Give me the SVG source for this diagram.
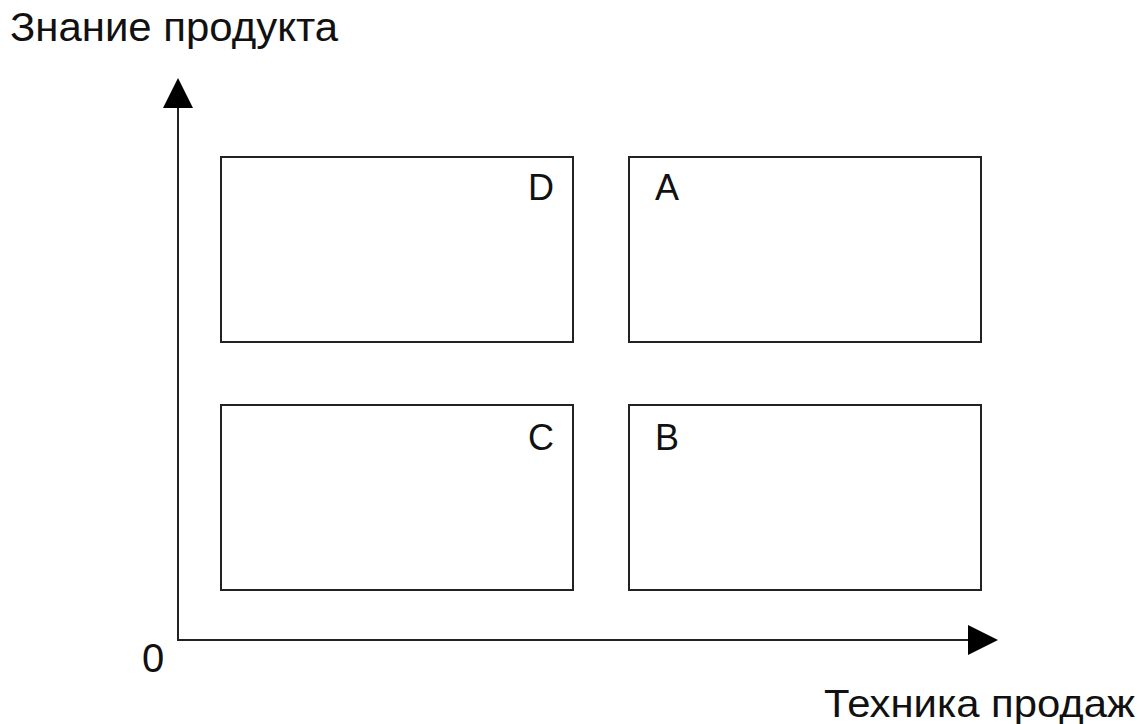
<svg xmlns="http://www.w3.org/2000/svg" width="1145" height="724" viewBox="0 0 1145 724">
<style>
.box{fill:#fff;stroke:#222;stroke-width:2}
.ax{stroke:#222;stroke-width:2;fill:none}
.t{font-family:"Liberation Sans",Arial,sans-serif;fill:#111}
.q{font-size:36px}
</style>
<defs>
<marker id="ah" markerUnits="userSpaceOnUse" markerWidth="30" markerHeight="30" refX="0" refY="15" orient="auto" viewBox="0 0 30 30">
<path d="M0,0 L30,15 L0,30 Z" fill="#000"/>
</marker>
</defs>
<rect width="1145" height="724" fill="#fff"/>
<g id="connectors">
<path class="ax" d="M178,641 L178,108" marker-end="url(#ah)"/>
<path class="ax" d="M177,640 L968,640" marker-end="url(#ah)"/>
</g>
<g id="D"><rect class="box" x="221" y="157" width="352" height="185"/><text class="t q" x="554" y="200" text-anchor="end">D</text></g>
<g id="A"><rect class="box" x="629" y="157" width="352" height="185"/><text class="t q" x="655" y="200">A</text></g>
<g id="C"><rect class="box" x="221" y="405" width="352" height="185"/><text class="t q" x="554" y="450" text-anchor="end">C</text></g>
<g id="B"><rect class="box" x="629" y="405" width="352" height="185"/><text class="t q" x="655" y="450">B</text></g>
<g id="labels">
<text class="t" x="10" y="41" font-size="40" textLength="328" lengthAdjust="spacingAndGlyphs">Знание продукта</text>
<text class="t" x="142" y="672" font-size="40">0</text>
<text class="t" x="824" y="717" font-size="39" textLength="311" lengthAdjust="spacingAndGlyphs">Техника продаж</text>
</g>
</svg>
